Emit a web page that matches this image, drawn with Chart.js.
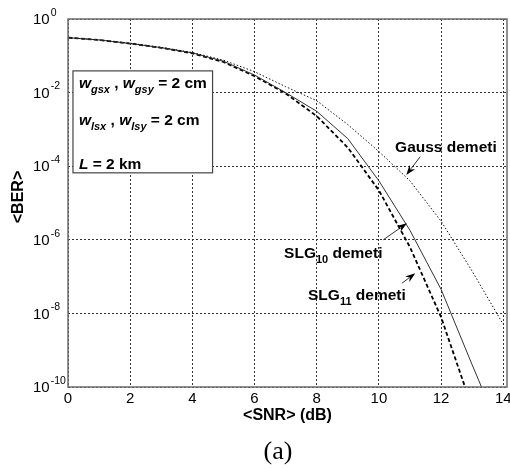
<!DOCTYPE html>
<html>
<head>
<meta charset="utf-8">
<script src="https://cdn.jsdelivr.net/npm/chart.js@4"></script>
<style>
  body { margin: 0; background: #fff; }
  canvas { display: block; }
</style>
</head>
<body>
<canvas id="berChart" width="510" height="469"></canvas>
<script>
// BER vs SNR for Gauss / SLG demeti receivers

const snrTicks = [0, 2, 4, 6, 8, 10, 12, 14];
const berTicks = [1, 1e-2, 1e-4, 1e-6, 1e-8, 1e-10];
const berTickExp = ['0', '-2', '-4', '-6', '-8', '-10'];

const snrGauss = [0, 1, 2, 3, 4, 5, 6, 7, 8, 9, 10, 11, 12, 13, 14];
const berGauss = [3.1e-1, 2.7e-1, 2.2e-1, 1.7e-1, 1.23e-1, 7.6e-2, 3.7e-2, 1.45e-2, 6.0e-3, 1.35e-3, 2.5e-4, 4.0e-5, 3.2e-6, 1.4e-7, 5.0e-9];

const snrSlg10 = [0, 1, 2, 3, 4, 5, 6, 7, 8, 9, 10, 11, 12, 13, 13.3];
const berSlg10 = [3.1e-1, 2.7e-1, 2.15e-1, 1.66e-1, 1.2e-1, 7.1e-2, 3.0e-2, 1.0e-2, 3.1e-3, 5.6e-4, 4.0e-5, 1.8e-6, 4.5e-8, 4.0e-10, 1.0e-10];

const snrSlg11 = [0, 1, 2, 3, 4, 5, 6, 7, 8, 9, 10, 11, 12, 12.77];
const berSlg11 = [3.1e-1, 2.7e-1, 2.15e-1, 1.65e-1, 1.17e-1, 6.8e-2, 2.8e-2, 9.5e-3, 2.3e-3, 3.2e-4, 2.2e-5, 6.3e-7, 7.9e-9, 1.0e-10];

const SANS = '"Liberation Sans", Arial, sans-serif';

function toPoints(xs, ys) {
  return xs.map((x, i) => ({ x: x, y: ys[i] }));
}

// draw a run of text pieces (main text + subscripts) left to right
function drawRuns(ctx, x, y, runs) {
  let cx = x;
  runs.forEach(r => {
    ctx.font = r.font;
    ctx.fillText(r.t, cx, y + (r.dy || 0));
    cx += ctx.measureText(r.t).width;
  });
}

function arrow(ctx, x1, y1, x2, y2) {
  const ang = Math.atan2(y2 - y1, x2 - x1);
  const len = 10, half = 3.5;
  ctx.beginPath();
  ctx.moveTo(x1, y1);
  ctx.lineTo(x2 - Math.cos(ang) * len * 0.8, y2 - Math.sin(ang) * len * 0.8);
  ctx.strokeStyle = '#000';
  ctx.lineWidth = 0.8;
  ctx.stroke();
  ctx.beginPath();
  ctx.moveTo(x2, y2);
  ctx.lineTo(x2 - Math.cos(ang) * len - Math.sin(ang) * half, y2 - Math.sin(ang) * len + Math.cos(ang) * half);
  ctx.lineTo(x2 - Math.cos(ang) * len * 0.7, y2 - Math.sin(ang) * len * 0.7);
  ctx.lineTo(x2 - Math.cos(ang) * len + Math.sin(ang) * half, y2 - Math.sin(ang) * len - Math.cos(ang) * half);
  ctx.closePath();
  ctx.fillStyle = '#000';
  ctx.fill();
}

const decorations = {
  id: 'decorations',
  afterDraw(chart) {
    const ctx = chart.ctx;
    const xs = chart.scales.x, ys = chart.scales.y;
    const area = chart.chartArea;
    const px = v => xs.getPixelForValue(v);
    const py = v => ys.getPixelForValue(v);

    ctx.save();
    // axes box
    ctx.strokeStyle = '#6e6e6e';
    ctx.lineWidth = 1.5;
    ctx.strokeRect(area.left, area.top, area.right - area.left, area.bottom - area.top);

    ctx.fillStyle = '#000';
    // y tick labels 10^n
    berTicks.forEach((v, i) => {
      const y = py(v);
      ctx.textAlign = 'left';
      ctx.textBaseline = 'middle';
      ctx.font = '15px ' + SANS;
      ctx.fillText('10', 33, y + 1);
      const w = ctx.measureText('10').width;
      ctx.font = '10.5px ' + SANS;
      ctx.fillText(berTickExp[i], 33 + w + 1, y - 6);
    });

    // x tick labels
    ctx.font = '15px ' + SANS;
    ctx.textAlign = 'center';
    ctx.textBaseline = 'top';
    snrTicks.forEach(v => ctx.fillText(String(v), px(v), area.bottom + 4));

    // axis titles
    ctx.font = 'bold 16px ' + SANS;
    ctx.textBaseline = 'middle';
    ctx.fillText('<SNR> (dB)', (area.left + area.right) / 2, 416);
    ctx.save();
    ctx.translate(19, 197);
    ctx.rotate(-Math.PI / 2);
    ctx.fillText('<BER>', 0, 0);
    ctx.restore();

    // caption
    ctx.font = '26px "Liberation Serif", "Times New Roman", serif';
    ctx.fillText('(a)', 278, 452);

    // parameter box
    const bx1 = px(0.16), bx2 = px(4.65), by1 = py(10 ** -1.41), by2 = py(10 ** -4.18);
    ctx.fillStyle = '#fff';
    ctx.fillRect(bx1, by1, bx2 - bx1, by2 - by1);
    ctx.strokeStyle = '#444';
    ctx.lineWidth = 1.2;
    ctx.strokeRect(bx1, by1, bx2 - bx1, by2 - by1);

    ctx.fillStyle = '#000';
    ctx.textAlign = 'left';
    ctx.textBaseline = 'alphabetic';
    const big = 'bold 15.5px ' + SANS, bigIt = 'italic bold 15.5px ' + SANS, sub = 'italic bold 11px ' + SANS;
    const tx = px(0.35);
    drawRuns(ctx, tx, py(10 ** -1.875), [
      { t: 'w', font: bigIt }, { t: 'gsx', font: sub, dy: 5 }, { t: ' , ', font: big },
      { t: 'w', font: bigIt }, { t: 'gsy', font: sub, dy: 5 }, { t: ' = 2 cm', font: big }
    ]);
    drawRuns(ctx, tx, py(10 ** -2.88), [
      { t: 'w', font: bigIt }, { t: 'lsx', font: sub, dy: 5 }, { t: ' , ', font: big },
      { t: 'w', font: bigIt }, { t: 'lsy', font: sub, dy: 5 }, { t: ' = 2 cm', font: big }
    ]);
    drawRuns(ctx, tx, py(10 ** -4.08), [
      { t: 'L', font: bigIt }, { t: ' = 2 km', font: big }
    ]);

    // curve labels
    const subN = 'bold 11px ' + SANS;
    drawRuns(ctx, px(10.52), py(10 ** -3.61), [{ t: 'Gauss demeti', font: big }]);
    drawRuns(ctx, px(6.95), py(10 ** -6.49), [
      { t: 'SLG', font: big }, { t: '10', font: subN, dy: 5 }, { t: ' demeti', font: big }
    ]);
    drawRuns(ctx, px(7.72), py(10 ** -7.64), [
      { t: 'SLG', font: big }, { t: '11', font: subN, dy: 5 }, { t: ' demeti', font: big }
    ]);

    arrow(ctx, px(11.33), py(10 ** -3.74), px(10.88), py(10 ** -4.24));
    arrow(ctx, px(10.14), py(10 ** -6.0), px(10.9), py(10 ** -5.55));
    arrow(ctx, px(10.74), py(10 ** -7.18), px(11.17), py(10 ** -6.91));
    ctx.restore();
  }
};

const ctx = document.getElementById('berChart').getContext('2d');

window.berChart = new Chart(ctx, {
  type: 'line',
  data: {
    datasets: [
      {
        label: 'Gauss demeti',
        data: toPoints(snrGauss, berGauss),
        borderColor: '#111',
        borderWidth: 1,
        borderDash: [1.5, 2],
        pointRadius: 0,
        tension: 0
      },
      {
        label: 'SLG10 demeti',
        data: toPoints(snrSlg10, berSlg10),
        borderColor: '#333',
        borderWidth: 1,
        pointRadius: 0,
        tension: 0
      },
      {
        label: 'SLG11 demeti',
        data: toPoints(snrSlg11, berSlg11),
        borderColor: '#000',
        borderWidth: 1.8,
        borderDash: [4, 2.5],
        pointRadius: 0,
        tension: 0
      }
    ]
  },
  options: {
    responsive: false,
    animation: false,
    devicePixelRatio: 1,
    layout: { padding: { left: 68, top: 19, right: 3, bottom: 82 } },
    plugins: {
      legend: { display: false },
      tooltip: { enabled: false }
    },
    scales: {
      x: {
        type: 'linear',
        min: 0,
        max: 14.12,
        afterBuildTicks: scale => { scale.ticks = snrTicks.map(v => ({ value: v })); },
        ticks: { display: false },
        grid: { color: '#333', lineWidth: 1, drawTicks: false },
        border: { display: false, dash: [2, 2] }
      },
      y: {
        type: 'logarithmic',
        min: 1e-10,
        max: 1,
        afterBuildTicks: scale => { scale.ticks = berTicks.map(v => ({ value: v })); },
        ticks: { display: false },
        grid: { color: '#333', lineWidth: 1, drawTicks: false },
        border: { display: false, dash: [2, 2] }
      }
    }
  },
  plugins: [decorations]
});
</script>
</body>
</html>
